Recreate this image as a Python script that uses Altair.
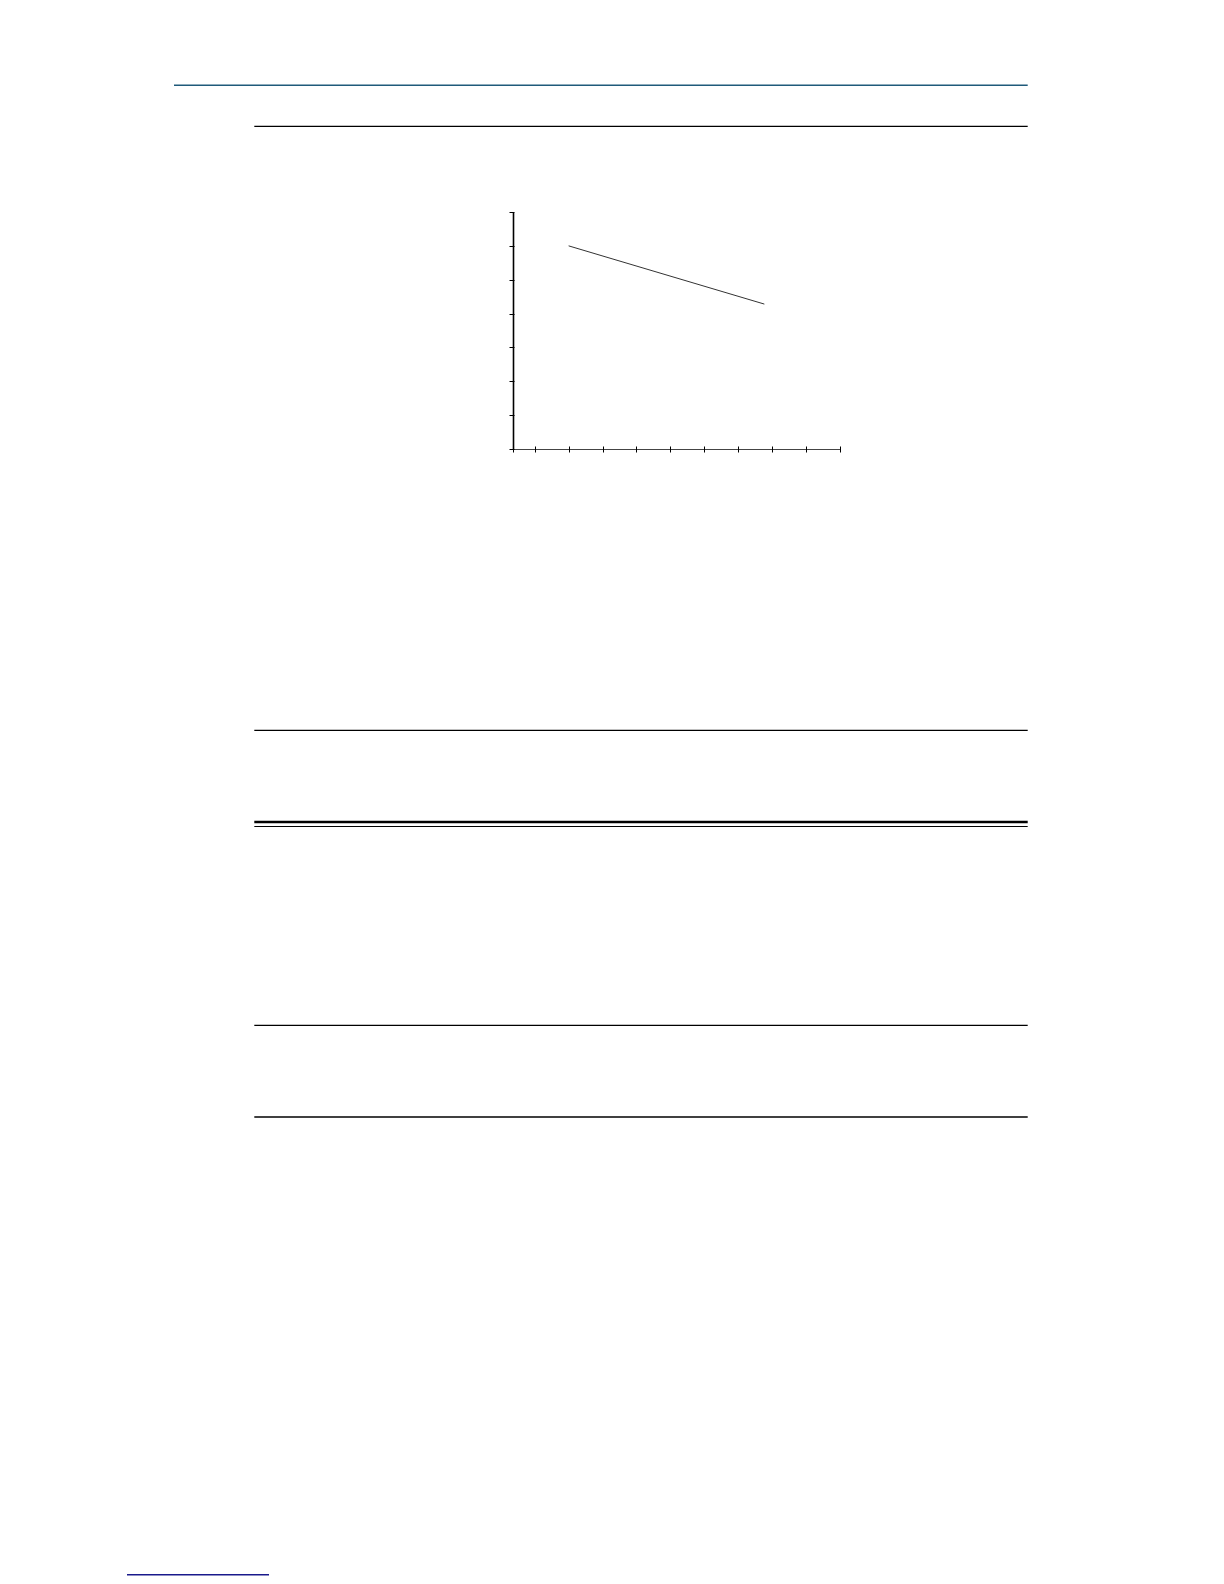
import altair as alt
import pandas as pd

# ---- data ----
x_vals = [1.0, 6.77]
y_vals = [6.0, 4.28]
x_ticks = [-0.64, 0, 1, 2, 3, 4, 5, 6, 7, 8, 9]
y_ticks = [0, 1, 2, 3, 4, 5, 6, 7]
x_domain = [-0.64, 9]
y_domain = [0, 7]

df = pd.DataFrame({"x": x_vals, "y": y_vals})

W, H = 327, 237

xs = alt.Scale(domain=x_domain, nice=False, zero=False)
ys = alt.Scale(domain=y_domain, nice=False, zero=False)

# layer carrying the axis lines (domains)
line = alt.Chart(df).mark_line(color="#333333", strokeWidth=1).encode(
    x=alt.X("x:Q", scale=xs, title=None,
            axis=alt.Axis(orient="bottom", domain=True, domainColor="#444444",
                          domainWidth=1.2, ticks=False, labels=False, grid=False,
                          values=x_ticks)),
    y=alt.Y("y:Q", scale=ys, title=None,
            axis=alt.Axis(orient="left", domain=True, domainColor="#000000",
                          domainWidth=1.6, ticks=False, labels=False, grid=False,
                          values=y_ticks)),
)

# layer carrying the crossing tick marks
ticks = alt.Chart(df).mark_line(opacity=0).encode(
    x=alt.X("x:Q", scale=xs, title=None,
            axis=alt.Axis(orient="bottom", domain=False, ticks=True, tickSize=6,
                          tickColor="#000000", tickWidth=1, offset=-3,
                          labels=False, grid=False, values=x_ticks)),
    y=alt.Y("y:Q", scale=ys, title=None,
            axis=alt.Axis(orient="left", domain=False, ticks=True, tickSize=5,
                          tickColor="#000000", tickWidth=1, offset=-1,
                          labels=False, grid=False, values=y_ticks)),
)

# page decoration rules (positions relative to plot origin)
one = alt.Data(values=[{"a": 1}])

def rule(x1, x2, y, color="#000000", w=1.3):
    return alt.Chart(one).mark_rule(color=color, strokeWidth=w).encode(
        x=alt.value(x1), x2=alt.value(x2), y=alt.value(y))

R = 514.7
decor = [
    rule(-339, R, -126.7, "#1f5a7a", 1.5),
    rule(-258.7, R, -85.7),
    rule(-258.7, R, 518.3),
    rule(-258.7, R, 610.0, "#000000", 2.6),
    rule(-258.7, R, 614.5, "#000000", 1.0),
    rule(-258.7, R, 813.3),
    rule(-258.7, R, 905.0),
    rule(-386, -244, 1362.7, "#1a1a8c", 1.5),
]

chart = alt.layer(line, ticks, *decor).resolve_axis(
    x="independent", y="independent"
).properties(
    width=W, height=H,
    background="white",
    autosize=alt.AutoSizeParams(type="none"),
    padding={"left": 505, "top": 204, "right": 200, "bottom": 1129},
).configure_view(stroke="transparent", strokeWidth=0)

chart.save("out.html", embed_options={"renderer": "svg", "actions": False})
